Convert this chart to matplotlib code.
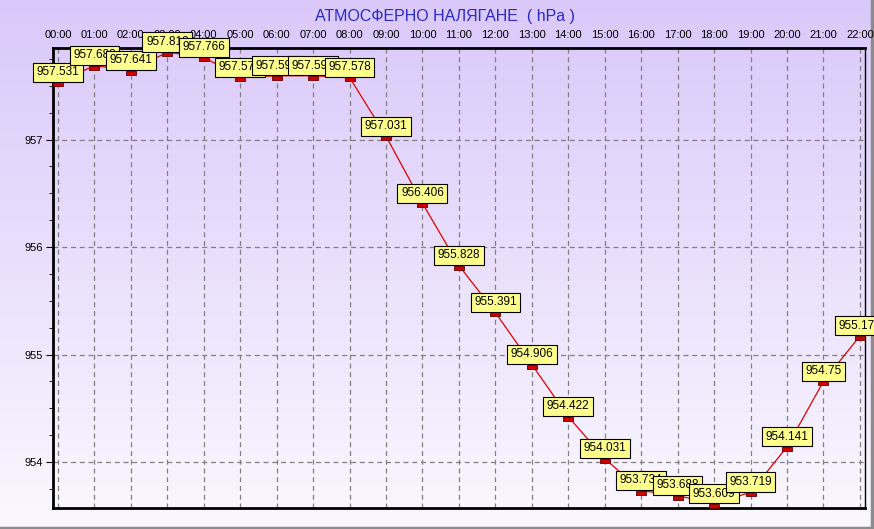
import numpy as np
import matplotlib.pyplot as plt
from matplotlib.ticker import MultipleLocator

hours = ["00:00", "01:00", "02:00", "03:00", "04:00", "05:00", "06:00", "07:00",
         "08:00", "09:00", "10:00", "11:00", "12:00", "13:00", "14:00", "15:00",
         "16:00", "17:00", "18:00", "19:00", "20:00", "21:00", "22:00"]
pressure = [957.531, 957.688, 957.641, 957.813, 957.766, 957.578, 957.594, 957.594,
            957.578, 957.031, 956.406, 955.828, 955.391, 954.906, 954.422, 954.031,
            953.734, 953.688, 953.609, 953.719, 954.141, 954.75, 955.172]
title = "АТМОСФЕРНО НАЛЯГАНЕ  ( hPa )"

plt.rcParams['font.family'] = ['Liberation Sans', 'DejaVu Sans']

fig = plt.figure(figsize=(8.74, 5.29), dpi=100)

# background gradient, lavender at the top fading to almost white
bg = fig.add_axes([0, 0, 1, 1], zorder=-10)
top = np.array([218, 200, 250]) / 255
bot = np.array([250, 248, 255]) / 255
t = np.linspace(0, 1, 256)[:, None]
grad = top * (1 - t) + bot * t
bg.imshow(grad[:, None, :], aspect='auto', extent=[0, 1, 0, 1])
bg.plot([0, 1], [0.002, 0.002], color='#8c8c8c', lw=2.5)
bg.plot([0.998, 0.998], [0, 1], color='#8c8c8c', lw=2.5)
bg.set_xlim(0, 1)
bg.set_ylim(0, 1)
bg.axis('off')

ax = fig.add_axes([0.0606, 0.0397, 0.9291, 0.8696])
ax.set_facecolor('none')

x = np.arange(len(hours))
# small red block hanging just below the point
box_marker = [(-1, -0.9), (1, -0.9), (1, 0.1), (-1, 0.1), (-1, -0.9)]
ax.plot(x, pressure, color='#e00000', lw=0.9, zorder=3)
ax.plot(x, pressure, ls='none', marker=box_marker, ms=7, mfc='#d00000',
        mec='#600000', mew=0.6, zorder=4)

for i, v in enumerate(pressure):
    ax.annotate(f"{v:g}", (x[i], v), xytext=(0, 3), textcoords='offset points',
                ha='center', va='bottom', fontsize=8.5, zorder=5 + i,
                bbox=dict(boxstyle='square,pad=0.3', fc='#ffff8c', ec='black', lw=0.8),
                annotation_clip=False)

ax.set_xlim(-0.137, 22.14)
ax.set_ylim(953.572, 957.852)
ax.set_xticks(x)
ax.set_xticklabels(hours)
ax.xaxis.tick_top()
ax.tick_params(axis='x', length=0, pad=6, labelsize=8)
ax.set_yticks([954, 955, 956, 957])
ax.yaxis.set_minor_locator(MultipleLocator(0.25))
ax.tick_params(axis='y', which='major', length=5, labelsize=8, pad=2)
ax.tick_params(axis='y', which='minor', length=3)
ax.grid(True, ls=(0, (4, 3)), color='#808080', lw=0.9)

for side in ['left', 'bottom', 'top']:
    ax.spines[side].set_linewidth(2)
ax.spines['right'].set_linewidth(1)

fig.text(0.509, 0.969, title, ha='center', va='center', color='#2a2ac8', fontsize=11.5)

fig.savefig('out.png', dpi=100)
